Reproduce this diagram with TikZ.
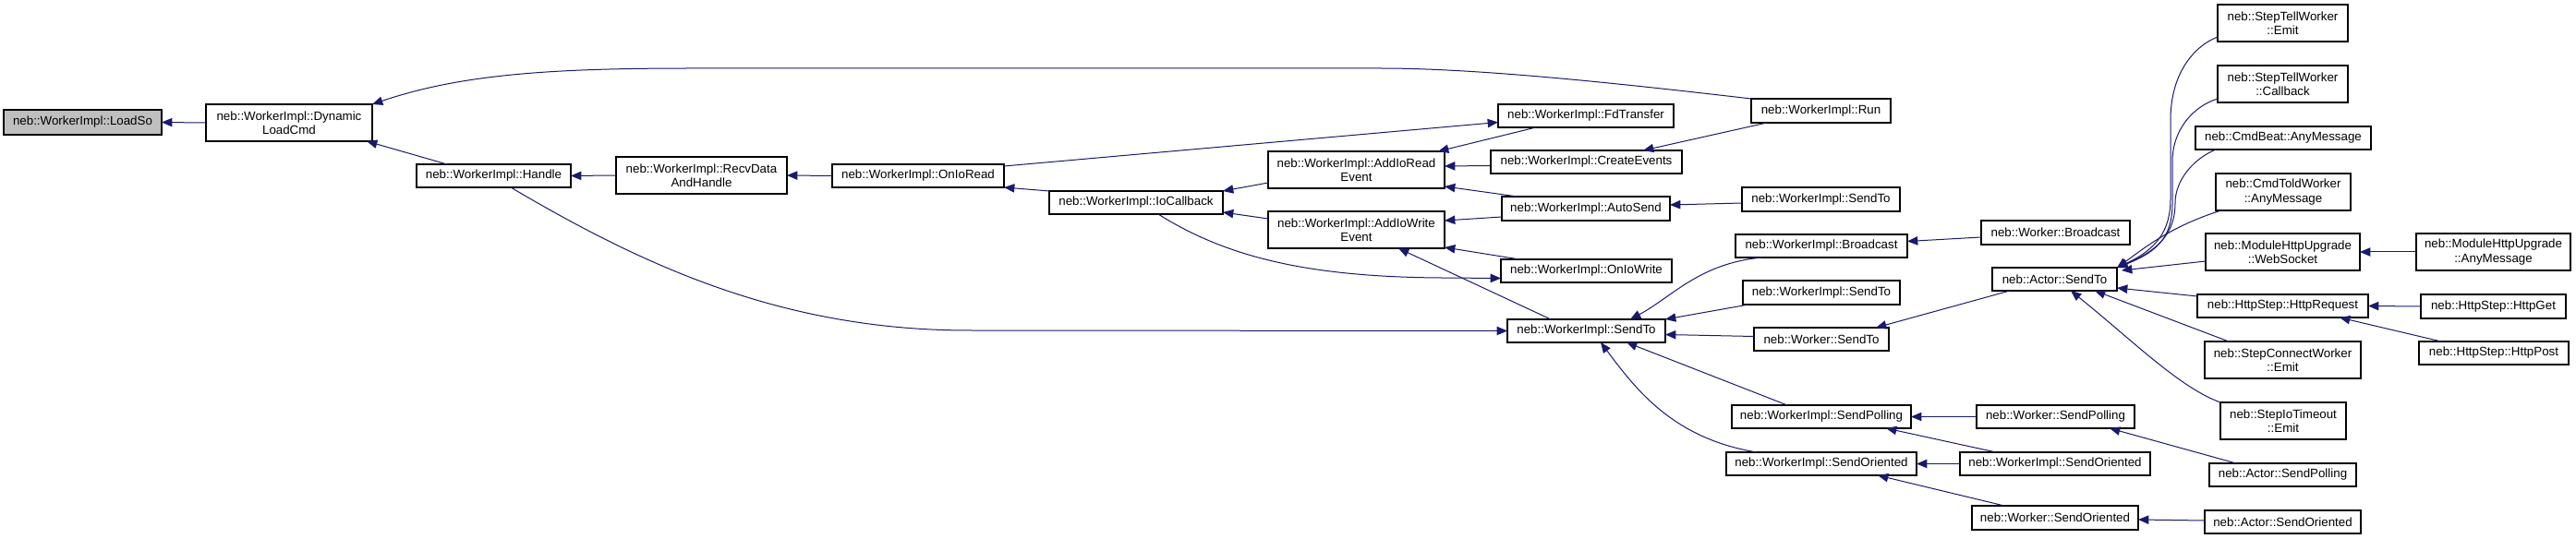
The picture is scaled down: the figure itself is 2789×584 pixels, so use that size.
\documentclass[tikz,border=0pt]{standalone}
\usepackage{fontspec}
\setmainfont{Liberation Sans}
\usetikzlibrary{arrows.meta}
\definecolor{edgecol}{HTML}{191970}
\definecolor{grayfill}{HTML}{BFBFBF}
\newcommand\nbfont{\fontsize{10}{11.5}\selectfont}
\newcommand\nbox[7][]{%
  \pgfmathsetmacro\nbcx{(#3+#5)/2}%
  \pgfmathsetmacro\nbcy{(#4+#6)/2}%
  \pgfmathsetmacro\nbw{(#5-#3)*0.75}%
  \pgfmathsetmacro\nbh{(#6-#4)*0.75}%
  \node[nb,minimum width=\nbw pt,minimum height=\nbh pt,#1] (#2) at (\nbcx,\nbcy) {#7};}
\begin{document}
\begin{tikzpicture}[x=0.75pt,y=-0.75pt,
  nb/.style={draw=black,line width=0.8pt,fill=white,inner sep=0pt,outer sep=0pt,align=center,font=\nbfont},
  edge/.style={draw=edgecol,line width=0.75pt,{Triangle[length=8.5pt,width=7pt]}-}]
\fill[white] (0,0) rectangle (2789,584);
\useasboundingbox (0,0) rectangle (2789,584);
% nodes
\nbox[fill=grayfill]{load}{4}{119}{175}{146}{neb::WorkerImpl::LoadSo}
\nbox{dyn}{223}{113}{403}{153}{neb::WorkerImpl::Dynamic\\LoadCmd}
\nbox{handle}{451}{178}{618}{203}{neb::WorkerImpl::Handle}
\nbox{recv}{667}{170}{852}{210}{neb::WorkerImpl::RecvData\\AndHandle}
\nbox{onread}{901}{178}{1087}{203}{neb::WorkerImpl::OnIoRead}
\nbox{iocb}{1136}{207}{1324}{232}{neb::WorkerImpl::IoCallback}
\nbox{addr}{1373}{164}{1564}{204}{neb::WorkerImpl::AddIoRead\\Event}
\nbox{addw}{1373}{229}{1564}{269}{neb::WorkerImpl::AddIoWrite\\Event}
\nbox{fdt}{1622}{113}{1812}{138}{neb::WorkerImpl::FdTransfer}
\nbox{run}{1896}{107}{2047}{133}{neb::WorkerImpl::Run}
\nbox{cev}{1614}{163}{1821}{188}{neb::WorkerImpl::CreateEvents}
\nbox{autos}{1626}{213}{1808}{239}{neb::WorkerImpl::AutoSend}
\nbox{onwr}{1625}{281}{1810}{306}{neb::WorkerImpl::OnIoWrite}
\nbox{wsend}{1632}{346}{1803}{371}{neb::WorkerImpl::SendTo}
\nbox{wsendA}{1886}{203}{2057}{229}{neb::WorkerImpl::SendTo}
\nbox{wbc}{1879}{254}{2065}{279}{neb::WorkerImpl::Broadcast}
\nbox{wsendB}{1887}{304}{2057}{330}{neb::WorkerImpl::SendTo}
\nbox{wksend}{1899}{355}{2045}{380}{neb::Worker::SendTo}
\nbox{wpoll}{1875}{439}{2069}{464}{neb::WorkerImpl::SendPolling}
\nbox{wori}{1869}{490}{2075}{515}{neb::WorkerImpl::SendOriented}
\nbox{kbc}{2145}{239}{2306}{265}{neb::Worker::Broadcast}
\nbox{asend}{2157}{290}{2292}{315}{neb::Actor::SendTo}
\nbox{kpoll}{2140}{439}{2311}{464}{neb::Worker::SendPolling}
\nbox{wori2}{2122}{490}{2328}{515}{neb::WorkerImpl::SendOriented}
\nbox{kori}{2135}{548}{2315}{574}{neb::Worker::SendOriented}
\nbox{stwe}{2401}{5}{2542}{45}{neb::StepTellWorker\\::Emit}
\nbox{stwc}{2401}{71}{2542}{111}{neb::StepTellWorker\\::Callback}
\nbox{cba}{2377}{137}{2567}{162}{neb::CmdBeat::AnyMessage}
\nbox{ctw}{2399}{188}{2545}{228}{neb::CmdToldWorker\\::AnyMessage}
\nbox{mws}{2388}{253}{2555}{293}{neb::ModuleHttpUpgrade\\::WebSocket}
\nbox{mam}{2616}{253}{2783}{293}{neb::ModuleHttpUpgrade\\::AnyMessage}
\nbox{hreq}{2379}{319}{2564}{344}{neb::HttpStep::HttpRequest}
\nbox{hget}{2621}{319}{2778}{345}{neb::HttpStep::HttpGet}
\nbox{hpost}{2619}{370}{2781}{395}{neb::HttpStep::HttpPost}
\nbox{scw}{2387}{370}{2556}{410}{neb::StepConnectWorker\\::Emit}
\nbox{sit}{2404}{436}{2540}{476}{neb::StepIoTimeout\\::Emit}
\nbox{apoll}{2392}{502}{2551}{527}{neb::Actor::SendPolling}
\nbox{aori}{2387}{553}{2556}{578}{neb::Actor::SendOriented}
% edges (arrow tip at first point)
\draw[edge] (load.east) -- (dyn.west);
\draw[edge] (dyn.north east) .. controls (500,80) and (600,74) .. (750,74) -- (1494,74) .. controls (1600,74) and (1750,90) .. (run.north west);
\draw[edge] ([shift={(-6,0)}]dyn.south east) -- ([shift={(33,0)}]handle.north west);
\draw[edge] (handle.east) -- (recv.west);
\draw[edge] (recv.east) -- (onread.west);
\draw[edge] (onread.south east) -- (iocb.north west);
\draw[edge] ([shift={(0,7)}]fdt.west) -- ([shift={(0,2)}]onread.north east);
\draw[edge] (iocb.north east) -- ([shift={(0,34)}]addr.north west);
\draw[edge] ([shift={(0,-2)}]iocb.south east) -- ([shift={(0,8)}]addw.north west);
\draw[edge] ([shift={(-7,0)}]addr.north east) -- ([shift={(41,0)}]fdt.south west);
\draw[edge] ([shift={(0,16)}]addr.north east) -- ([shift={(0,4)}]cev.west);
\draw[edge] ([shift={(0,-2)}]addr.south east) -- ([shift={(17,0)}]autos.north west);
\draw[edge] ([shift={(0,10)}]addw.north east) -- ([shift={(0,22)}]autos.north west);
\draw[edge] ([shift={(0,-1)}]addw.south east) -- ([shift={(20,0)}]onwr.north west);
\draw[edge] ([shift={(141,0)}]addw.south west) -- ([shift={(47,0)}]wsend.north west);
\draw[edge] ([shift={(0,8)}]onwr.west) -- (1560,301) .. controls (1420,300) and (1330,280) .. ([shift={(118,0)}]iocb.south west);
\draw[edge] (wsend.west) -- (1050,358) .. controls (850,358) and (700,290) .. ([shift={(102,0)}]handle.south west);
\draw[edge] ([shift={(0,-4)}]autos.east) -- ([shift={(0,4)}]wsendA.west);
\draw[edge] ([shift={(165,0)}]cev.north west) -- ([shift={(17,0)}]run.south west);
\draw[edge] ([shift={(0,-5)}]wbc.east) -- ([shift={(0,5)}]kbc.west);
\draw[edge] ([shift={(-38,0)}]wsend.north east) .. controls (1810,322) and (1840,285) .. ([shift={(29,0)}]wbc.south west);
\draw[edge] (wsend.north east) -- ([shift={(6,0)}]wsendB.south west);
\draw[edge] ([shift={(0,4)}]wsend.east) -- ([shift={(0,-3)}]wksend.west);
\draw[edge] ([shift={(-42,0)}]wsend.south east) -- ([shift={(60,0)}]wpoll.north west);
\draw[edge] ([shift={(-70,0)}]wsend.south east) .. controls (1770,420) and (1810,475) .. ([shift={(33,0)}]wori.north west);
\draw[edge] ([shift={(-14,0)}]wksend.north east) -- ([shift={(19,0)}]asend.south west);
\draw[edge] (wpoll.east) -- (kpoll.west);
\draw[edge] ([shift={(-27,0)}]wpoll.south east) -- ([shift={(39,0)}]wori2.north west);
\draw[edge] (wori.east) -- (wori2.west);
\draw[edge] ([shift={(-42,0)}]wori.south east) -- ([shift={(35,0)}]kori.north west);
\draw[edge] ([shift={(-27,0)}]kpoll.south east) -- ([shift={(29,0)}]apoll.north west);
\draw[edge] ([shift={(0,2)}]kori.east) -- ([shift={(0,-1.5)}]aori.west);
% Actor::SendTo callers
\draw[edge] (asend.north east) .. controls (2335,270) and (2350,250) .. (2350,215) -- (2350,130) .. controls (2350,80) and (2375,50) .. ([shift={(0,35)}]stwe.north west);
\draw[edge] (asend.north east) .. controls (2338,272) and (2352,255) .. (2352,220) -- (2352,175) .. controls (2352,140) and (2375,115) .. ([shift={(0,36)}]stwc.north west);
\draw[edge] (asend.north east) .. controls (2340,270) and (2355,250) .. (2355,220) .. controls (2355,195) and (2375,172) .. ([shift={(22,0)}]cba.south west);
\draw[edge] (asend.north east) .. controls (2320,270) and (2350,245) .. ([shift={(6,0)}]ctw.south west);
\draw[edge] ([shift={(5,3)}]asend.north east) -- ([shift={(0,30)}]mws.north west);
\draw[edge] ([shift={(0,-3)}]asend.south east) -- ([shift={(0,2)}]hreq.north west);
\draw[edge] ([shift={(-24,0)}]asend.south east) -- ([shift={(26,0)}]scw.north west);
\draw[edge] ([shift={(-50,0)}]asend.south east) .. controls (2310,370) and (2360,420) .. (sit.north west);
\draw[edge] (mws.east) -- (mam.west);
\draw[edge] (hreq.east) -- (hget.west);
\draw[edge] ([shift={(-31,0)}]hreq.south east) -- ([shift={(24,0)}]hpost.north west);
\end{tikzpicture}
\end{document}
